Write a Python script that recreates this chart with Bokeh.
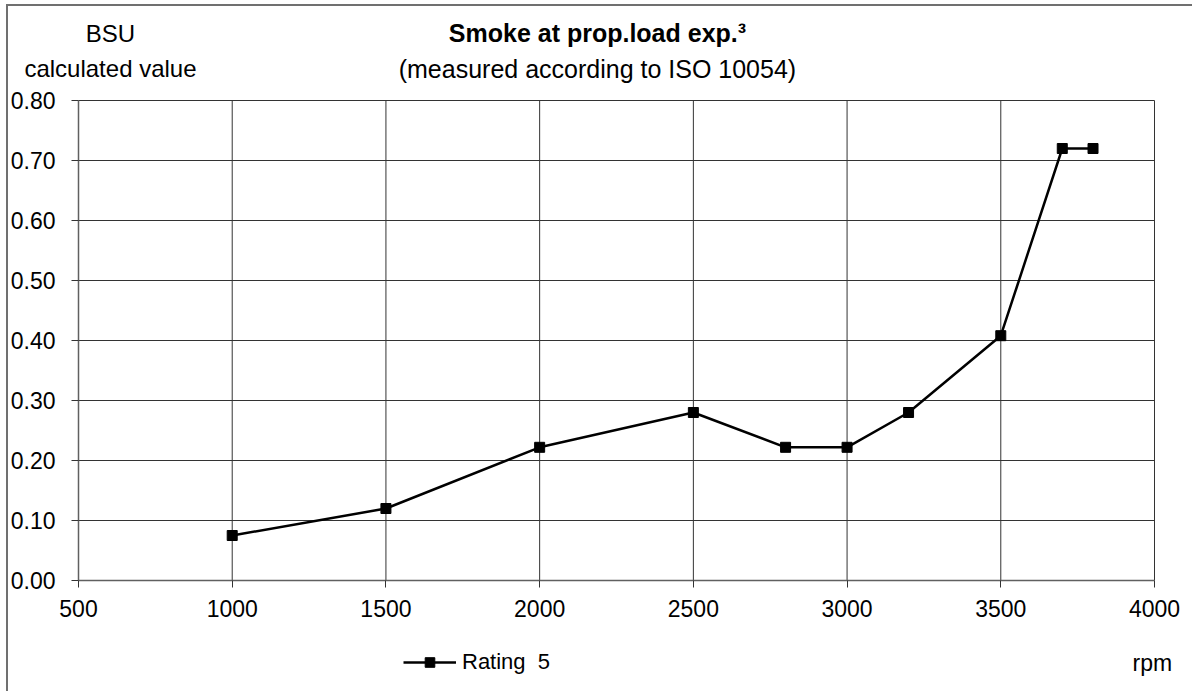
from bokeh.plotting import figure
from bokeh.models import (Range1d, FixedTicker, PrintfTickFormatter, Label, Legend,
                          LegendItem, LinearAxis)
from bokeh.embed import file_html
from bokeh.resources import INLINE

# data
rpm = [1000, 1500, 2000, 2500, 2800, 3000, 3200, 3500, 3700, 3800]
bsu = [0.075, 0.12, 0.222, 0.28, 0.222, 0.222, 0.28, 0.408, 0.72, 0.72]
series_name = "Rating  5"
x_ticks = [500, 1000, 1500, 2000, 2500, 3000, 3500, 4000]
y_ticks = [0.0, 0.1, 0.2, 0.3, 0.4, 0.5, 0.6, 0.7, 0.8]
title_text = "Smoke at prop.load exp.\u00b3"
subtitle_text = "(measured according to ISO 10054)"
ylabel_1 = "BSU"
ylabel_2 = "calculated value"
xlabel = "rpm"

FONT = "Liberation Sans"
GRID = "#333333"

x0, x1 = x_ticks[0], x_ticks[-1]
y0, y1 = y_ticks[0], y_ticks[-1]

# whole canvas is the frame; the visible plot area is bounded by the axes
p = figure(width=1186, height=687, output_backend="svg", toolbar_location=None,
           title=None, x_axis_location=None, y_axis_location=None,
           x_range=Range1d(272.3, 4130.1), y_range=Range1d(-0.18833, 0.95667),
           min_border=0)
p.styles = {"border-top": "2px solid #707070", "border-left": "2px solid #707070",
            "margin-top": "4px", "margin-left": "6px"}
p.outline_line_color = None
for g in p.grid:
    g.visible = False

# grid lines inside the plot area
p.segment(x0=x_ticks[1:], y0=[y0] * (len(x_ticks) - 1), x1=x_ticks[1:], y1=[y1] * (len(x_ticks) - 1),
          line_color=GRID, line_width=1)
p.segment(x0=[x0] * (len(y_ticks) - 1), y0=y_ticks[1:], x1=[x1] * (len(y_ticks) - 1), y1=y_ticks[1:],
          line_color=GRID, line_width=1)

xaxis = LinearAxis(fixed_location=y0, bounds=(x0, x1), ticker=FixedTicker(ticks=x_ticks))
yaxis = LinearAxis(fixed_location=x0, bounds=(y0, y1), ticker=FixedTicker(ticks=y_ticks),
                   formatter=PrintfTickFormatter(format="%.2f"))
for ax in (xaxis, yaxis):
    ax.axis_line_color = "#606060"
    ax.axis_line_width = 1.5
    ax.major_tick_line_color = GRID
    ax.major_tick_out = 7
    ax.major_tick_in = 0
    ax.minor_tick_line_color = None
    ax.major_label_text_font = FONT
    ax.major_label_text_font_size = "23px"
    ax.major_label_text_color = "black"
xaxis.major_label_standoff = 12
yaxis.major_label_standoff = 16
p.add_layout(xaxis, "below")
p.add_layout(yaxis, "left")

r_line = p.line(rpm, bsu, line_color="black", line_width=2.5)
r_pts = p.scatter(rpm, bsu, marker="square", size=10, fill_color="black", line_color="black")

def lab(x, y, t, size, bold=False):
    p.add_layout(Label(x=x, y=y, text=t, text_align="center", text_baseline="middle",
                       text_font=FONT, text_font_size=size,
                       text_font_style="bold" if bold else "normal", text_color="black"))

lab(604, 0.9117, ylabel_1, "24px")
lab(604, 0.8533, ylabel_2, "24px")
lab(2188, 0.9117, title_text, "25px", bold=True)
lab(2188, 0.8533, subtitle_text, "25px")
lab(3993, -0.137, xlabel, "23px")

legend = Legend(items=[LegendItem(label=series_name, renderers=[r_line, r_pts])],
                location=(395, 18), orientation="horizontal",
                border_line_color=None, background_fill_alpha=0,
                padding=0, margin=0, glyph_width=53, glyph_height=24,
                label_standoff=6, label_text_font=FONT, label_text_font_size="22px",
                label_text_color="black")
p.add_layout(legend, "center")

open("out.html", "w").write(file_html(p, INLINE))
